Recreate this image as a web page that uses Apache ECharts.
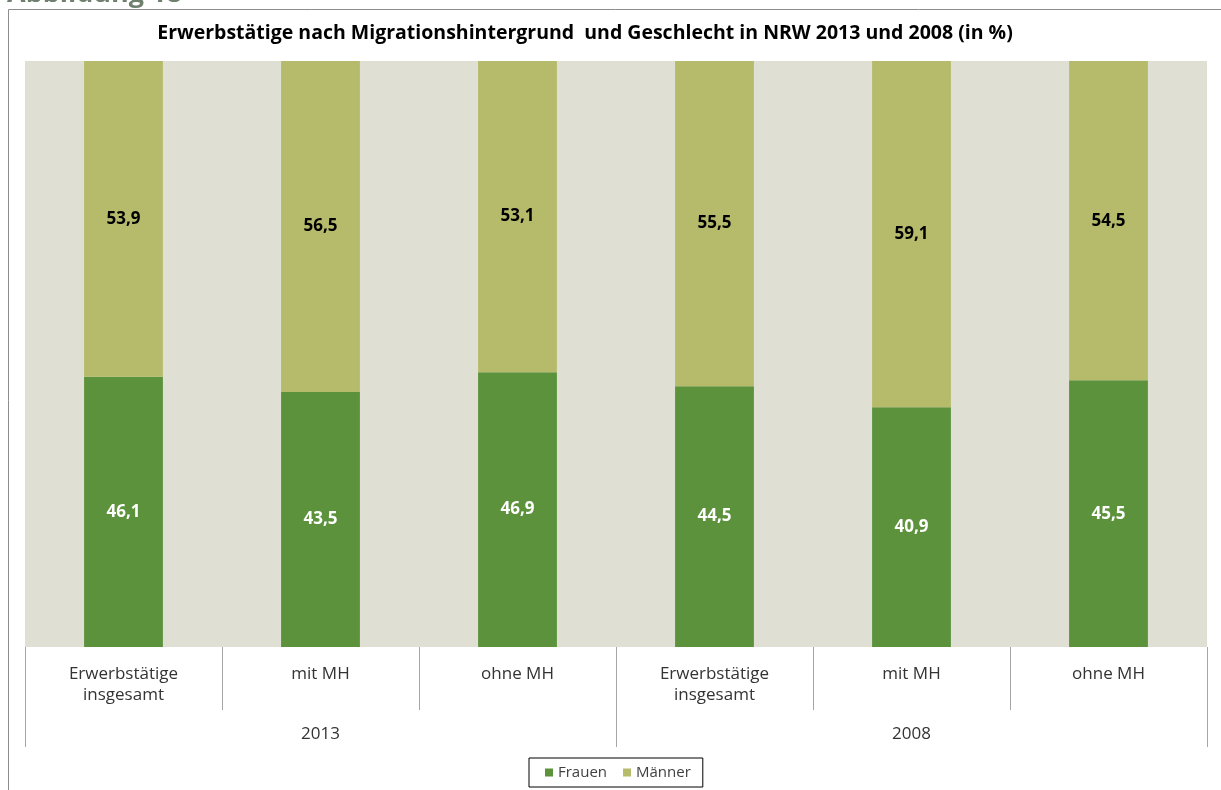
<!DOCTYPE html>
<html><head><meta charset="utf-8">
<script src="https://cdn.jsdelivr.net/npm/echarts@6/dist/echarts.min.js"></script>
<style>html,body{margin:0;padding:0;background:#fff}#c{width:1221px;height:790px}</style>
</head><body><div id="c"></div>
<script>
const categories = ['Erwerbstätige\ninsgesamt', 'mit MH', 'ohne MH', 'Erwerbstätige\ninsgesamt', 'mit MH', 'ohne MH'];
const years = ['2013', '2008'];
const frauen = [46.1, 43.5, 46.9, 44.5, 40.9, 45.5];
const maenner = [53.9, 56.5, 53.1, 55.5, 59.1, 54.5];
const titleText = 'Erwerbstätige nach Migrationshintergrund  und Geschlecht in NRW 2013 und 2008 (in %)';
const figureText = 'Abbildung 18';

const FONT = '"Open Sans"';
const fmt = p => p.value.toFixed(1).replace('.', ',');
const chart = echarts.init(document.getElementById('c'), null, {renderer: 'canvas'});
chart.setOption({
  animation: false,
  backgroundColor: '#fff',
  textStyle: {fontFamily: FONT},
  title: {
    text: titleText, left: 580, top: 18, textAlign: 'center',
    textStyle: {fontFamily: FONT, fontSize: 19.5, fontWeight: 'bold', color: '#000'}
  },
  graphic: [
    {type: 'rect', shape: {x: 8.5, y: 9.5, width: 1230, height: 800}, style: {fill: 'none', stroke: '#8c8c8c', lineWidth: 1}, silent: true, z: -1},
    {type: 'text', x: 7, y: -6, style: {text: figureText, fill: '#6f806f', font: 'bold 27px ' + FONT, textVerticalAlign: 'middle'}, z: 10}
  ],
  legend: {
    data: ['Frauen', 'Männer'], left: 529, bottom: 3,
    borderColor: '#000', borderWidth: 1, padding: [7, 12, 7, 16],
    itemWidth: 8, itemHeight: 8, itemGap: 16, icon: 'rect',
    textStyle: {fontFamily: FONT, fontSize: 15, color: '#404040'}
  },
  grid: {left: 25, right: 14, top: 61, bottom: 143, show: true, backgroundColor: '#dfe0d3', borderWidth: 0},
  xAxis: [
    {type: 'category', data: categories, position: 'bottom',
     axisLine: {show: false},
     axisTick: {show: true, length: 63, lineStyle: {color: '#a6a6a6', width: 1}},
     axisLabel: {interval: 0, margin: 17, lineHeight: 21, fontSize: 17, color: '#333', fontFamily: FONT}},
    {type: 'category', data: years, position: 'bottom',
     axisLine: {show: false},
     axisTick: {show: true, length: 100, lineStyle: {color: '#a6a6a6', width: 1}},
     axisLabel: {interval: 0, margin: 77, lineHeight: 21, fontSize: 17, color: '#333', fontFamily: FONT}}
  ],
  yAxis: {type: 'value', min: 0, max: 100, show: false, splitLine: {show: false}},
  series: [
    {name: 'Frauen', type: 'bar', stack: 'a', xAxisIndex: 0, data: frauen, barWidth: '40%',
     itemStyle: {color: '#5b923b'},
     label: {show: true, position: 'inside', formatter: fmt, color: '#fff', fontWeight: 'bold', fontSize: 17, fontFamily: FONT}},
    {name: 'Männer', type: 'bar', stack: 'a', xAxisIndex: 0, data: maenner, barWidth: '40%',
     itemStyle: {color: '#b6bb6b'},
     label: {show: true, position: 'inside', formatter: fmt, color: '#000', fontWeight: 'bold', fontSize: 17, fontFamily: FONT}}
  ]
});
</script></body></html>
